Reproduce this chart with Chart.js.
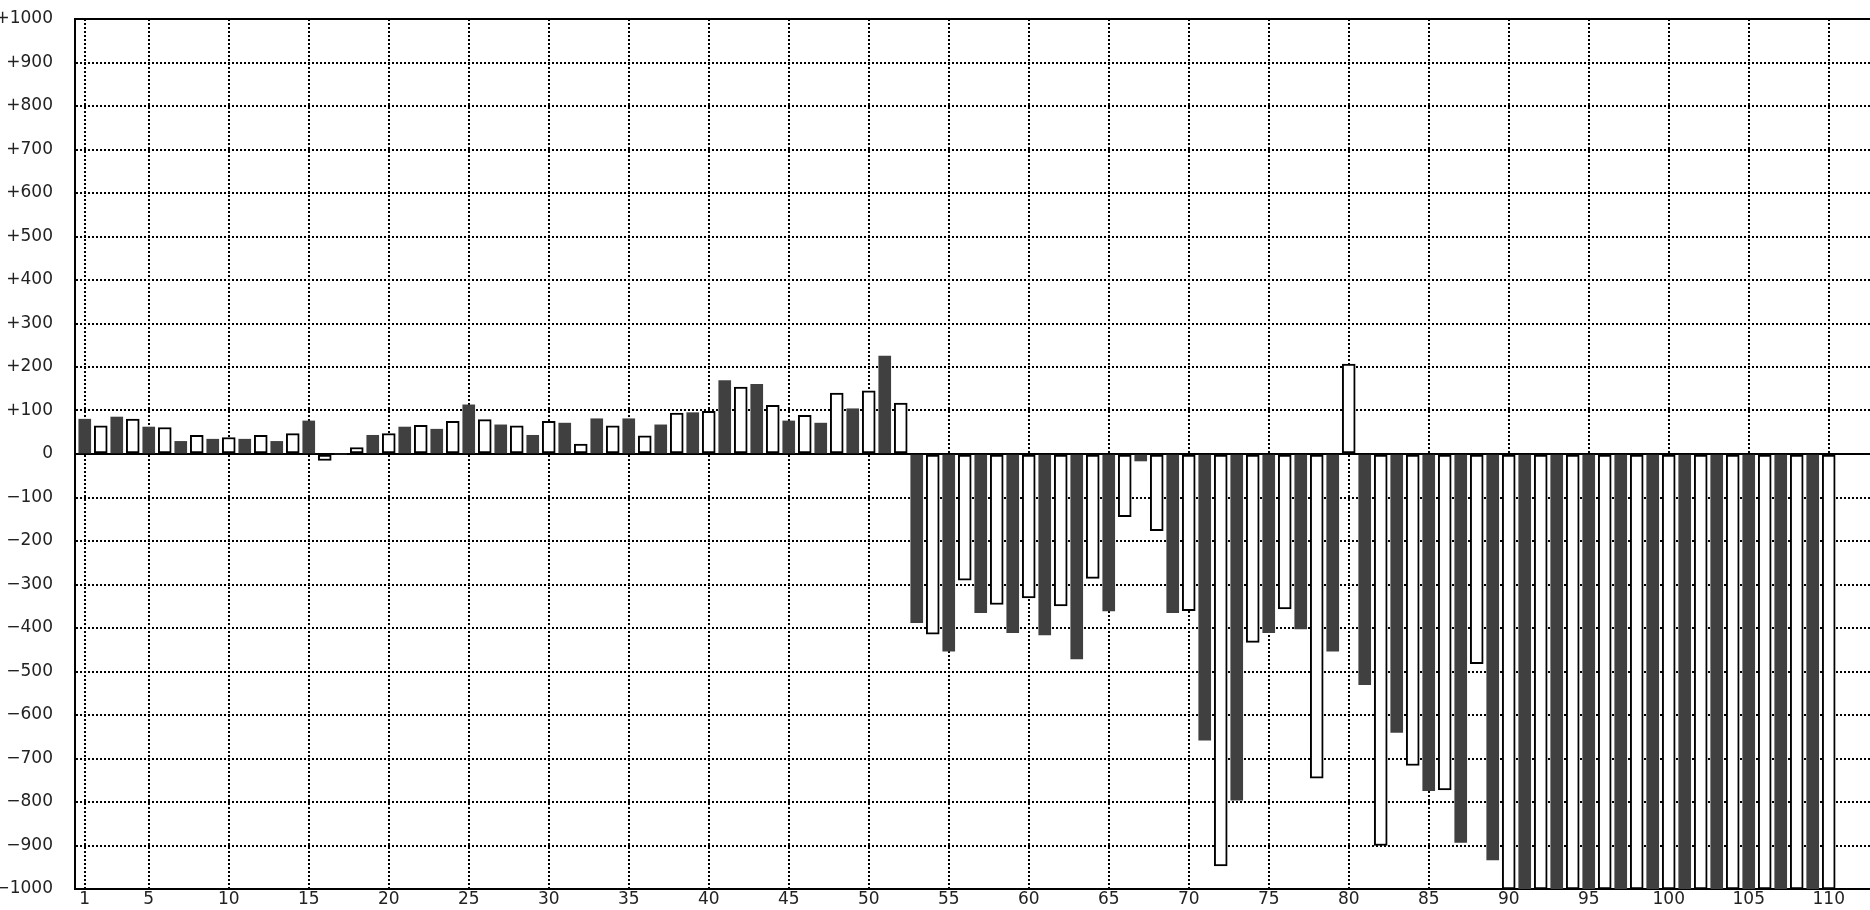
<!DOCTYPE html>
<html>
<head>
<meta charset="utf-8">
<title>Bars</title>
<script src="https://cdn.jsdelivr.net/npm/chart.js@4/dist/chart.umd.min.js"></script>
<style>
  html, body { margin: 0; padding: 0; background: #fff; overflow: hidden; }
  #chart { display: block; }
</style>
</head>
<body>
<canvas id="chart" width="1870" height="910"></canvas>
<script>
// Values for the odd days (dark bars) 1, 3, 5 ... 109
var darkValues = [
    80, 85, 62, 29, 34, 34, 29, 76, 0, 43,
    62, 57, 113, 67, 43, 71, 81, 81, 67, 95,
    169, 160, 76, 71, 104, 225, -388, -453, -365, -411,
    -416, -471, -361, -16, -365, -658, -796, -411, -402, -453,
    -530, -640, -774, -893, -933,
    -1000, -1000, -1000, -1000, -1000, -1000, -1000, -1000, -1000, -1000
];

// Values for the even days (white bars) 2, 4, 6 ... 110
var whiteValues = [
    65, 80, 61, 43, 38, 43, 47, -15, 15, 47,
    66, 75, 79, 65, 75, 23, 65, 42, 94, 98,
    154, 112, 89, 140, 145, 117, -414, -290, -346, -331,
    -349, -286, -144, -176, -360, -947, -433, -356, -745, 207,
    -900, -716, -772, -482,
    -1000, -1000, -1000, -1000, -1000, -1000, -1000, -1000, -1000, -1000, -1000
];

// Labelled ticks on the bottom axis
var xTickValues = [1, 5, 10, 15, 20, 25, 30, 35, 40, 45, 50, 55,
    60, 65, 70, 75, 80, 85, 90, 95, 100, 105, 110];

// Range of each axis
var xMin = 0.39;
var xMax = 112.58;
var yMin = -1000;
var yMax = 1000;
var yStep = 100;

Chart.defaults.font.family = '"DejaVu Sans", sans-serif';
Chart.defaults.font.size = 17;
Chart.defaults.color = '#222';

// Build the {x, y} points (odd days dark, even days white)
var darkPoints = darkValues.map(function(v, i) {
    return { x: 2 * i + 1, y: v };
});
var whitePoints = whiteValues.map(function(v, i) {
    return { x: 2 * i + 2, y: v };
});

// Solid line at zero and at the top, dotted elsewhere
function gridDash(ctx) {
    if (!ctx.tick) {
        return [];
    }
    if (ctx.tick.value === 0 || ctx.tick.value === yMax) {
        return [];
    }
    return [2, 2];
}

var chartCtx = document.getElementById('chart');

var barChart = new Chart(chartCtx, {
    type: 'bar',
    data: {
        datasets: [
            {
                label: 'odd',
                data: darkPoints,
                backgroundColor: '#404040',
                borderWidth: 0,
                barThickness: 12,
                grouped: false
            },
            {
                label: 'even',
                data: whitePoints,
                backgroundColor: '#ffffff',
                borderColor: '#000000',
                borderWidth: 2,
                borderSkipped: false,
                barThickness: 13,
                grouped: false
            }
        ]
    },
    options: {
        responsive: false,
        animation: false,
        layout: {
            padding: { top: 19, left: 0, right: 0, bottom: 0 }
        },
        plugins: {
            legend: { display: false },
            tooltip: { enabled: false }
        },
        scales: {
            x: {
                type: 'linear',
                min: xMin,
                max: xMax,
                offset: false,
                afterBuildTicks: function(scale) {
                    scale.ticks = xTickValues.map(function(v) {
                        return { value: v };
                    });
                },
                afterFit: function(scale) {
                    scale.height = 21;
                    scale.paddingLeft = 0;
                    scale.paddingRight = 0;
                },
                ticks: {
                    padding: 0,
                    autoSkip: false,
                    maxRotation: 0,
                    callback: function(v) { return String(v); }
                },
                grid: {
                    offset: false,
                    color: '#000',
                    lineWidth: 2,
                    drawTicks: false
                },
                border: {
                    display: true,
                    color: '#000',
                    width: 2,
                    dash: gridDash
                }
            },
            y: {
                min: yMin,
                max: yMax,
                afterFit: function(scale) {
                    scale.width = 75;
                    scale.paddingTop = 0;
                    scale.paddingBottom = 0;
                },
                ticks: {
                    stepSize: yStep,
                    padding: 22,
                    callback: function(v) {
                        if (v > 0) {
                            return '+' + v;
                        }
                        if (v < 0) {
                            return '\u2212' + Math.abs(v);
                        }
                        return '0';
                    }
                },
                grid: {
                    color: '#000',
                    lineWidth: 2,
                    drawTicks: false
                },
                border: {
                    display: true,
                    color: '#000',
                    width: 2,
                    dash: gridDash
                }
            }
        }
    }
});
</script>
</body>
</html>
